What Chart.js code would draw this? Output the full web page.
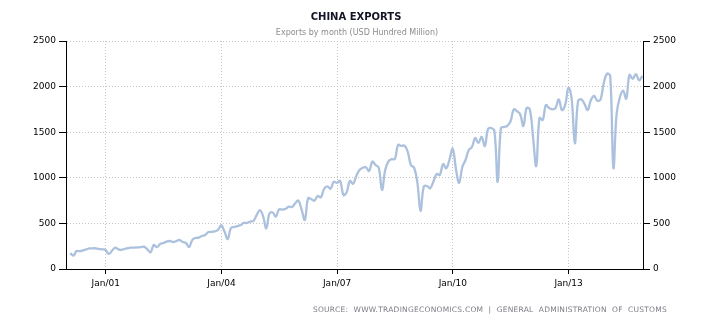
<!DOCTYPE html>
<html>
<head>
<meta charset="utf-8">
<title>China Exports</title>
<script src="https://cdn.jsdelivr.net/npm/chart.js@4.4.1/dist/chart.umd.min.js"></script>
<style>
  html, body { margin: 0; padding: 0; background: #fff; }
  canvas { display: block; }
</style>
</head>
<body>
<canvas id="exports-chart" width="710" height="325"></canvas>
<script>
// monthly exports, USD hundred million, Jan 2000 - Nov 2014
const firstYear = 2000;
const exports2000 = [175, 146, 197, 195, 205, 215, 225, 227, 227, 218, 216, 208];
const exports2001 = [165, 200, 234, 215, 210, 222, 228, 234, 234, 236, 240, 245];
const exports2002 = [215, 183, 263, 240, 274, 285, 300, 307, 296, 305, 318, 296];
const exports2003 = [285, 241, 320, 340, 345, 362, 373, 406, 406, 412, 430, 482];
const exports2004 = [410, 330, 450, 460, 470, 482, 505, 505, 520, 526, 590, 645];
const exports2005 = [581, 446, 610, 620, 575, 655, 650, 660, 683, 680, 720, 750];
const exports2006 = [650, 537, 775, 765, 750, 800, 786, 880, 905, 880, 957, 945];
const exports2007 = [965, 811, 840, 965, 935, 1020, 1085, 1110, 1115, 1075, 1177, 1140];
const exports2008 = [1110, 866, 1085, 1180, 1205, 1205, 1360, 1350, 1352, 1286, 1140, 1110];
const exports2009 = [950, 639, 903, 910, 885, 960, 1042, 1031, 1151, 1104, 1200, 1320];
const exports2010 = [1100, 943, 1118, 1195, 1305, 1338, 1436, 1382, 1447, 1349, 1535, 1546];
const exports2011 = [1510, 954, 1546, 1557, 1570, 1620, 1750, 1730, 1697, 1568, 1765, 1750];
const exports2012 = [1447, 1129, 1656, 1634, 1798, 1765, 1751, 1765, 1860, 1743, 1798, 1988];
const exports2013 = [1870, 1378, 1840, 1860, 1810, 1743, 1853, 1897, 1845, 1860, 2036, 2140];
const exports2014 = [2120, 1110, 1700, 1880, 1955, 1868, 2129, 2085, 2137, 2069, 2116];

const tickYears = [2001, 2004, 2007, 2010, 2013];
const tickLabels = ['Jan/01', 'Jan/04', 'Jan/07', 'Jan/10', 'Jan/13'];
const yTicks = [0, 500, 1000, 1500, 2000, 2500];

const monthly = [].concat(
  exports2000, exports2001, exports2002, exports2003, exports2004,
  exports2005, exports2006, exports2007, exports2008, exports2009,
  exports2010, exports2011, exports2012, exports2013, exports2014
);

// each value is stamped at the end of its month
const points = monthly.map((v, i) => ({ x: firstYear + (i + 0.95) / 12, y: v }));

const tickFont = { family: 'DejaVu Sans', size: 9 };
const gridColor = '#c4c4c4';

const headerText = {
  id: 'headerText',
  afterDraw(chart) {
    const ctx = chart.ctx;
    ctx.save();
    ctx.textAlign = 'center';
    ctx.textBaseline = 'middle';
    ctx.fillStyle = '#141428';
    ctx.font = 'bold 10px "DejaVu Sans"';
    ctx.fillText('CHINA EXPORTS', 356, 17);
    ctx.fillStyle = '#8c8c8c';
    ctx.font = '8px "DejaVu Sans"';
    ctx.fillText('Exports by month (USD Hundred Million)', 357, 33);
    ctx.textAlign = 'right';
    ctx.fillStyle = '#7c7c86';
    ctx.font = '7.5px "DejaVu Sans"';
    ctx.letterSpacing = '0.25px';
    ctx.fillText('SOURCE:  WWW.TRADINGECONOMICS.COM  |  GENERAL  ADMINISTRATION  OF  CUSTOMS', 667, 310);
    ctx.restore();
  }
};

function yAxis(position, width, onChart) {
  return {
    position: position,
    min: 0,
    max: 2500,
    afterBuildTicks: (scale) => { scale.ticks = yTicks.map(v => ({ value: v })); },
    afterFit: (scale) => { scale.width = width; },
    ticks: { font: tickFont, color: '#000', padding: 3, callback: (v) => String(v) },
    grid: {
      color: gridColor,
      lineWidth: 1,
      drawOnChartArea: onChart,
      tickLength: 7,
      tickColor: '#000'
    },
    border: { color: '#000', width: 1, dash: [1, 2] }
  };
}

new Chart(document.getElementById('exports-chart'), {
  type: 'line',
  data: {
    datasets: [{
      label: 'Exports',
      data: points,
      borderColor: '#abc1dd',
      borderWidth: 2.3,
      pointRadius: 0,
      tension: 0.4,
      fill: false,
      yAxisID: 'y'
    }]
  },
  options: {
    responsive: false,
    animation: false,
    devicePixelRatio: 1,
    layout: { padding: { top: 41, left: 0, right: 0, bottom: 0 } },
    plugins: {
      legend: { display: false },
      tooltip: { enabled: false }
    },
    scales: {
      x: {
        type: 'linear',
        min: 1999.97,
        max: 2014.93,
        afterBuildTicks: (scale) => { scale.ticks = tickYears.map(v => ({ value: v })); },
        afterFit: (scale) => { scale.height = 56; },
        ticks: {
          font: tickFont,
          color: '#000',
          padding: 4,
          maxRotation: 0,
          callback: (v) => tickLabels[tickYears.indexOf(v)]
        },
        grid: { color: gridColor, lineWidth: 1, tickLength: 5, tickColor: '#000' },
        border: { color: '#000', width: 1, dash: [1, 2] }
      },
      y: yAxis('left', 66, true),
      y2: yAxis('right', 67, false)
    }
  },
  plugins: [headerText]
});
</script>
</body>
</html>
